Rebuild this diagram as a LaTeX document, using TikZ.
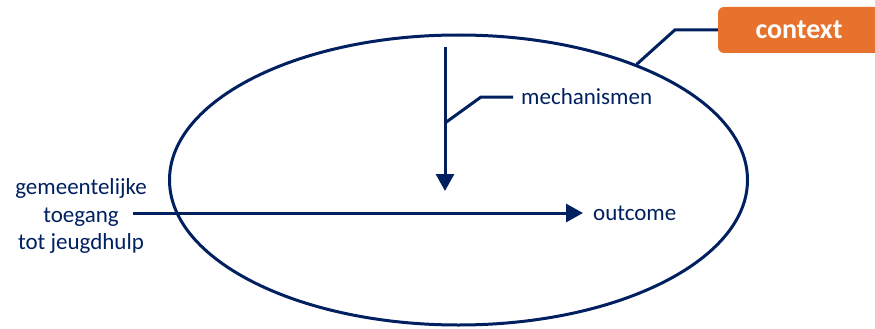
\documentclass[tikz,border=0pt]{standalone}
\usepackage{fontspec}
\setmainfont{Carlito}
\usepackage{xcolor}
\usepackage{tikz}
\usetikzlibrary{positioning}
\usetikzlibrary{arrows.meta,shapes.geometric}
\definecolor{navy}{HTML}{002060}
\definecolor{ctxorange}{HTML}{E6722E}
\tikzstyle{lbl}=[text=navy,font=\fontsize{23}{27.5}\selectfont]
\tikzstyle{ctxbox}=[rectangle,rounded corners=6pt,fill=ctxorange,text=white,font=\fontsize{28}{32}\selectfont\bfseries,minimum width=162pt,minimum height=46pt,inner sep=0pt]
\tikzstyle{ctxell}=[ellipse,draw=navy,line width=3pt,minimum width=578pt,minimum height=290pt,inner sep=0pt]
\tikzstyle{edge} = [draw,navy,line width=3pt,-{Triangle[length=17pt,width=18pt]}]
\tikzstyle{undirectededge} = [draw,navy,line width=3pt]

\begin{document}
\begin{tikzpicture}[x=1pt,y=-1pt]
  \useasboundingbox (0,0) rectangle (875,329);

  \node[ctxell] (ell) at (458.5,180) {};
  \node[ctxbox] (context) at (799,30) {context};

  \node[lbl,align=center] (source) at (81,216) {gemeentelijke\\toegang\\tot jeugdhulp};

  \foreach \x/\y/\name/\label/\sep in {513/97/mech/mechanismen/8pt, 583/213/outcome/outcome/10pt}
         \node[lbl,anchor=west,inner xsep=\sep] (\name) at (\x,\y) {\label};

  \coordinate (mtop) at (445,47);
  \coordinate (mtip) at (445,191);
  \coordinate (mbr) at (445,123);
  \coordinate (in) at (133,213);

  \path[edge] (mtop) -- (mtip);
  \path[edge] (in) -- (outcome.west);

  \path[undirectededge] (mbr) -- ++(36,-26) -- (mech.west);
  \path[undirectededge] (context.west) -- ++(-43,0) -- (ell.33);

\end{tikzpicture}
\end{document}
